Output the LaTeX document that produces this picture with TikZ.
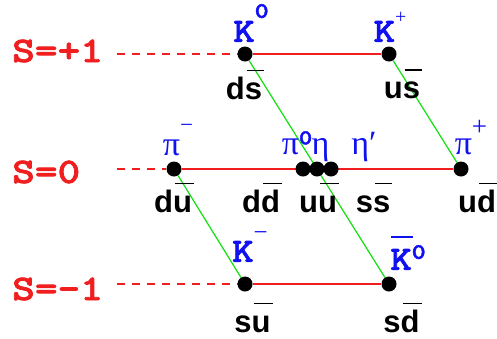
\documentclass[tikz,border=0pt]{standalone}
\usepackage{fontspec}
\setmainfont{Liberation Serif}
\setsansfont{Liberation Sans}
\newfontfamily\cour{lmmonolt10-bold.otf}[FakeStretch=1.2,FakeBold=2]
\definecolor{strred}{HTML}{F01E1E}
\definecolor{mesblue}{HTML}{1010F0}
\definecolor{isogreen}{HTML}{10E010}
\usetikzlibrary{positioning}
\pgfdeclarelayer{background}
\pgfsetlayers{background,main}
% antiquark bar and superscripts
\newcommand{\qbar}[1]{\setbox0\hbox{#1}\rlap{\hspace{2pt}\rule[0.9em]{\wd0}{1.5pt}}#1}
\newcommand{\hi}[3]{\raisebox{#1}{\fontsize{#2}{#2}\selectfont #3}}

\begin{document}
\begin{tikzpicture}[x=1pt,y=-1pt,
    dot/.style={circle,fill=black,inner sep=0pt,minimum size=15pt},
    meson/.style={text=mesblue,inner sep=0pt,font=\fontsize{34}{34}\selectfont\cour},
    greek/.style={text=mesblue,inner sep=0pt,font=\fontsize{34}{34}\selectfont\rmfamily},
    quark/.style={inner sep=0pt,font=\fontsize{31}{31}\selectfont\sffamily\bfseries},
    slabel/.style={text=strred,inner sep=0pt,font=\fontsize{36}{36}\selectfont\cour},
    row/.style={strred,line width=1.6pt},
    tail/.style={row,dash pattern=on 8pt off 7pt},
    iso/.style={isogreen,line width=1.2pt}]
  \useasboundingbox (0,0) rectangle (497,338);
  % strangeness labels
  \node[slabel,anchor=base west] (S1) at (12,62) {S=+1};
  \node[slabel,anchor=base west] (S0) at (12,183) {S=0};
  \node[slabel,anchor=base west] (Sm) at (12,300) {S=-1};
  \coordinate (t1) at (117,54);
  \coordinate (t0) at (117,169);
  \coordinate (tm) at (117,284);
  % mesons
  \node[dot] (K0) at (245,54) {};
  \node[dot] (Kp) at (389,54) {};
  \node[dot] (pim) at (174,169) {};
  \node[dot] (pi0) at (303,169) {};
  \node[dot] (eta) at (317,169) {};
  \node[dot] (etap) at (331,169) {};
  \node[dot] (pip) at (461,169) {};
  \node[dot] (Km) at (245,284) {};
  \node[dot] (K0b) at (389,284) {};
  \begin{pgfonlayer}{background}
    \draw[tail] (t1) -- (K0);
    \draw[tail] (t0) -- (pim);
    \draw[tail] (tm) -- (Km);
    \draw[row] (K0) -- (Kp);
    \draw[row] (pim) -- (pip);
    \draw[row] (Km) -- (K0b);
    \draw[iso] (K0) -- (K0b);
    \draw[iso] (Kp) -- (pip);
    \draw[iso] (pim) -- (Km);
  \end{pgfonlayer}
  % names
  \node[meson,above=4.5pt of K0,anchor=base,xshift=6pt] (lK0) {K\hi{24pt}{22}{0}};
  \node[meson,above=4.5pt of Kp,anchor=base,xshift=1pt] (lKp) {K\hi{18.5pt}{20}{\rmfamily +}};
  \node[greek,above=6pt of pim,anchor=base,xshift=4pt] (lpim) {π\hi{23pt}{23}{−}};
  \node[greek,above=7pt of pi0,anchor=base,xshift=-6pt] (lpi0) {π\hi{10pt}{21}{\cour 0}};
  \node[greek,above=7pt of eta,anchor=base,xshift=3.5pt] (leta) {η};
  \node[greek,above=7pt of etap,anchor=base,xshift=33pt] (letap) {η′};
  \node[greek,above=7pt of pip,anchor=base,xshift=10pt] (lpip) {π\hi{18.7pt}{27}{+}};
  \node[meson,above=14.5pt of Km,anchor=base,xshift=5pt] (lKm) {K\hi{21pt}{25}{\rmfamily −}};
  \node[meson,above=6.5pt of K0b,anchor=base,xshift=19pt] (lK0b)
    {\setbox0\hbox{K}\rlap{\hspace{1pt}\rule[0.95em]{\wd0}{1.5pt}}K\hi{11pt}{22}{0}};
  % quark content
  \node[quark,below=37.5pt of K0,anchor=base,xshift=-1pt] (qds) {d\qbar{s}};
  \node[quark,below=37pt of Kp,anchor=base,xshift=13pt] (qus) {u\qbar{s}};
  \node[quark,below=35.5pt of pim,anchor=base,xshift=-1pt] (qdu) {d\qbar{u}};
  \node[quark,below=35.5pt of pi0,anchor=base,xshift=-42pt] (qdd) {d\qbar{d}};
  \node[quark,below=35.5pt of eta,anchor=base,xshift=1pt] (quu) {u\qbar{u}};
  \node[quark,below=35.5pt of etap,anchor=base,xshift=42pt] (qss) {s\qbar{s}};
  \node[quark,below=35.5pt of pip,anchor=base,xshift=16pt] (qud) {u\qbar{d}};
  \node[quark,below=40.5pt of Km,anchor=base,xshift=7.5pt] (qsu) {s\qbar{u}};
  \node[quark,below=40.5pt of K0b,anchor=base,xshift=12.5pt] (qsd) {s\qbar{d}};
\end{tikzpicture}
\end{document}
